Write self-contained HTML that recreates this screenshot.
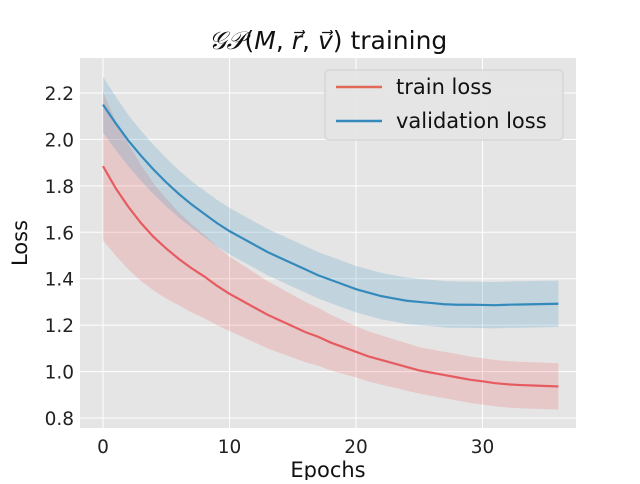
<!DOCTYPE html>
<html><head><meta charset="utf-8"><style>
body{margin:0;background:#fff;width:640px;height:480px;overflow:hidden;font-family:"DejaVu Sans","Liberation Sans",sans-serif}
</style></head><body>
<svg id="c" width="640" height="480" xmlns="http://www.w3.org/2000/svg" font-family="DejaVu Sans, Liberation Sans, sans-serif">
<rect x="80" y="58" width="496" height="370" fill="#e5e5e5"/>
<g id="grid"></g><g id="bands"></g><g id="lines"></g><g id="ticks"></g>
<text x="328" y="49" text-anchor="middle" font-size="25" fill="#111"><tspan font-style="italic">𝒢𝒫</tspan>(<tspan font-style="italic">M</tspan>, <tspan font-style="italic">r⃗</tspan>, <tspan font-style="italic">v⃗</tspan>) training</text>
<text x="328" y="477" text-anchor="middle" font-size="21" fill="#111">Epochs</text>
<text transform="translate(27,243) rotate(-90)" text-anchor="middle" font-size="21" fill="#111">Loss</text>
<g>
<rect x="325" y="70" width="238" height="70" rx="4" fill="#e5e5e5" stroke="#cccccc" opacity="0.9"/>
<line x1="336" y1="87" x2="382" y2="87" stroke="#e24a33" stroke-width="2.5" opacity="0.8"/>
<text x="396" y="94" font-size="21" fill="#111">train loss</text>
<line x1="336" y1="121" x2="382" y2="121" stroke="#348abd" stroke-width="2.5"/>
<text x="396" y="128" font-size="21" fill="#111">validation loss</text>
</g>
</svg>
<script>
const epochs=[...Array(37).keys()];
const trainLoss=[1.885,1.79,1.71,1.64,1.58,1.53,1.485,1.445,1.41,1.37,1.335,1.305,1.275,1.245,1.22,1.195,1.17,1.15,1.125,1.105,1.085,1.065,1.05,1.035,1.02,1.005,0.995,0.985,0.975,0.965,0.958,0.95,0.945,0.942,0.94,0.938,0.936];
const trainStd=[0.32,0.29,0.27,0.25,0.23,0.215,0.2,0.19,0.18,0.17,0.16,0.155,0.15,0.145,0.14,0.135,0.13,0.125,0.12,0.115,0.11,0.108,0.106,0.104,0.102,0.1,0.1,0.1,0.1,0.1,0.1,0.1,0.1,0.1,0.1,0.1,0.1];
const valLoss=[2.15,2.07,1.995,1.93,1.87,1.815,1.765,1.72,1.68,1.64,1.605,1.575,1.545,1.515,1.49,1.465,1.44,1.415,1.395,1.375,1.355,1.34,1.325,1.315,1.305,1.3,1.295,1.29,1.288,1.288,1.287,1.286,1.288,1.289,1.29,1.291,1.292];
const valStd=[0.12,0.115,0.11,0.108,0.106,0.104,0.102,0.1,0.1,0.1,0.1,0.1,0.1,0.1,0.1,0.1,0.1,0.1,0.1,0.1,0.1,0.1,0.1,0.1,0.1,0.1,0.1,0.1,0.1,0.1,0.1,0.1,0.1,0.1,0.1,0.1,0.1];
const xTicks=[0,10,20,30];
const yTicks=[0.8,1.0,1.2,1.4,1.6,1.8,2.0,2.2];
const NS="http://www.w3.org/2000/svg";
const X=v=>103+v*12.65, Y=v=>418-(v-0.8)*232.14;
function mk(p,t,a){const e=document.createElementNS(NS,t);for(const k in a)e.setAttribute(k,a[k]);document.getElementById(p).appendChild(e);return e;}
xTicks.forEach(t=>{
 const g=mk('grid','line',{x1:X(t),x2:X(t),y1:58,y2:428,stroke:'#fff','stroke-width':1});
 
 
 const tl=mk('ticks','text',{x:X(t),y:453,'text-anchor':'middle','font-size':18.5,fill:'#222'});
 tl.textContent=t;
 
 
});
yTicks.forEach(t=>{
 const g=mk('grid','line',{x1:80,x2:576,y1:Y(t),y2:Y(t),stroke:'#fff','stroke-width':1});
 
 
 const tl=mk('ticks','text',{x:74,y:Y(t)+7,'text-anchor':'end','font-size':18.5,fill:'#222'});
 tl.textContent=t.toFixed(1);
 
 
});
function band(m,s,col,name){
 const up=epochs.map(i=>X(i)+','+Y(m[i]+s[i]));
 const lo=epochs.slice().reverse().map(i=>X(i)+','+Y(m[i]-s[i]));
 const p=mk('bands','polygon',{points:up.concat(lo).join(' '),fill:col,opacity:0.2});
 
 
}
function line(m,col,name,op){
 const p=mk('lines','polyline',{points:epochs.map(i=>X(i)+','+Y(m[i])).join(' '),fill:'none',stroke:col,'stroke-width':2.2,opacity:op});
 
 
}
band(trainLoss,trainStd,'#f0545a','train-loss-band');
band(valLoss,valStd,'#348abd','validation-loss-band');
line(trainLoss,'#e5484d','train-loss-line',0.85);
line(valLoss,'#348abd','validation-loss-line',1);
</script>
</body></html>
